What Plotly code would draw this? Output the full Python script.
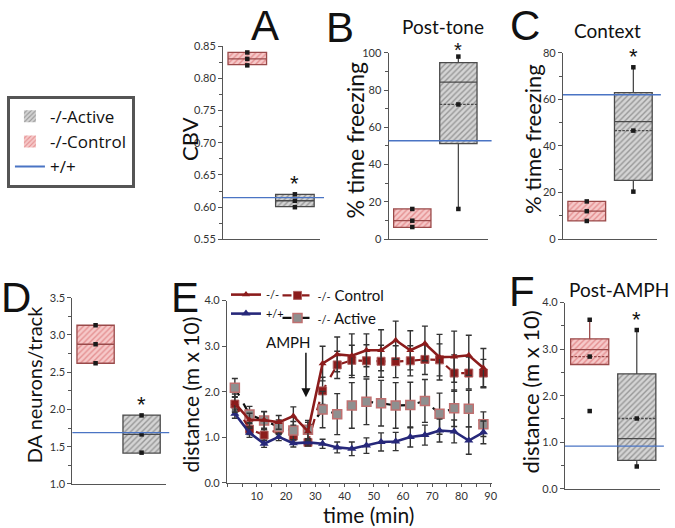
import plotly.graph_objects as go

W, H = 675, 528

# ---------------- data ----------------
groups = ["-/-Control", "-/-Active"]
box_pos = [0.5, 1.5]

# Panel A: CBV
a_q1 = [0.821, 0.601]
a_med = [0.830, 0.610]
a_q3 = [0.840, 0.620]
a_lo = [0.821, 0.601]
a_hi = [0.840, 0.620]
a_mean = [None, None]
a_dots_ctl = [0.84, 0.83, 0.82]
a_dots_act = [0.62, 0.61, 0.60]
a_wt = 0.615
a_star = 0.636

# Panel B: post-tone freezing
b_q1 = [6.3, 51.3]
b_med = [9.9, 84.3]
b_q3 = [16.2, 94.8]
b_lo = [6.3, 16.2]
b_hi = [16.2, 98.0]
b_mean = [None, 72.3]
b_dots_ctl = [16.2, 9.9, 6.5]
b_dots_act = [98.0, 72.3, 16.2]
b_wt = 52.8
b_star = 100.0

# Panel C: context freezing
c_q1 = [7.8, 25.2]
c_med = [12.0, 50.5]
c_q3 = [16.2, 62.9]
c_lo = [7.8, 20.4]
c_hi = [16.2, 73.8]
c_mean = [None, 46.6]
c_dots_ctl = [16.2, 12.0, 7.8]
c_dots_act = [73.8, 46.6, 20.4]
c_wt = 62.0
c_star = 78.5

# Panel D: DA neurons/track
d_q1 = [2.62, 1.415]
d_med = [2.875, 1.665]
d_q3 = [3.13, 1.925]
d_lo = [2.62, 1.415]
d_hi = [3.13, 1.925]
d_mean = [None, None]
d_dots_ctl = [3.13, 2.875, 2.62]
d_dots_act = [1.92, 1.665, 1.42]
d_wt = 1.69
d_star = 2.06

# Panel F: post-AMPH distance
f_q1 = [2.67, 0.61]
f_med = [2.99, 1.08]
f_q3 = [3.22, 2.47]
f_lo = [2.67, 0.48]
f_hi = [3.63, 3.41]
f_mean = [2.84, 1.51]
f_dots_ctl = [3.63, 2.84, 1.67]
f_dots_act = [3.41, 1.51, 0.48]
f_wt = 0.915
f_star = 3.63

# Panel E: time course
e_time = [2.5, 7.5, 12.5, 17.5, 22.5, 27.5, 32.5, 37.5, 42.5,
          47.5, 52.5, 57.5, 62.5, 67.5, 72.5, 77.5, 82.5, 87.5]
e_ko = [1.75, 1.38, 1.38, 1.33, 1.47, 1.13, 2.62, 2.82, 2.79,
        2.91, 2.91, 3.13, 2.91, 3.06, 2.76, 2.77, 2.80, 2.52]
e_ko_err = [0.2, 0.15, 0.18, 0.15, 0.2, 0.2, 0.38, 0.38, 0.48,
            0.36, 0.45, 0.42, 0.43, 0.38, 0.5, 0.56, 0.44, 0.43]
e_wt = [1.52, 1.10, 0.86, 1.01, 0.87, 0.89, 0.86, 0.78, 0.75,
        0.82, 0.90, 0.91, 1.01, 1.05, 1.15, 1.13, 0.93, 1.11]
e_wt_err = [0.1, 0.1, 0.08, 0.08, 0.08, 0.08, 0.1, 0.12, 0.15,
            0.17, 0.2, 0.2, 0.22, 0.22, 0.25, 0.25, 0.3, 0.25]
e_ctl = [1.73, 1.18, 1.05, 1.18, 1.03, 0.89, 2.02, 2.59, 2.69,
         2.68, 2.67, 2.66, 2.68, 2.71, 2.70, 2.41, 2.41, 2.41]
e_ctl_err = [0.15, 0.12, 0.12, 0.12, 0.1, 0.08, 0.3, 0.3, 0.33,
             0.35, 0.35, 0.35, 0.33, 0.33, 0.35, 0.4, 0.35, 0.3]
e_act = [2.09, 1.50, 1.37, 1.23, 1.15, 1.17, 1.61, 1.51, 1.70,
         1.78, 1.75, 1.70, 1.71, 1.80, 1.52, 1.64, 1.63, 1.29]
e_act_err = [0.2, 0.18, 0.2, 0.15, 0.2, 0.2, 0.4, 0.45, 0.5,
             0.5, 0.5, 0.5, 0.5, 0.47, 0.45, 0.4, 0.4, 0.27]
amph_time = 26.8

# ---------------- style ----------------
FONT = "Lato"
AX = "#555555"
TICKF = dict(family=FONT, size=11, color="#333333")
CTL_BG, CTL_FG, CTL_LN = "#f6c9c9", "#d2575a", "#9a4a4a"
ACT_BG, ACT_FG, ACT_LN = "#d4d4d4", "#5a5a5a", "#4a4a4a"
WT_BLUE = "#4a74c4"


def dx(x0, x1):
    return [x0 / W, x1 / W]


def dy(top, bot):
    return [1 - bot / H, 1 - top / H]


fig = go.Figure()

box_panels = [
    ("", (a_q1, a_med, a_q3, a_lo, a_hi, a_mean, a_dots_ctl, a_dots_act),
     dx(225, 323), dy(40, 238.3), [-0.01, 2.03], [0.55, 0.85], 0.05, 0.025, ".2f", a_wt, a_star, True),
    ("2", (b_q1, b_med, b_q3, b_lo, b_hi, b_mean, b_dots_ctl, b_dots_act),
     dx(392, 492), dy(47, 238), [-0.016, 2.135], [0, 100], 20, 10, "d", b_wt, b_star, False),
    ("3", (c_q1, c_med, c_q3, c_lo, c_hi, c_mean, c_dots_ctl, c_dots_act),
     dx(568, 663), dy(47, 238), [-0.011, 2.01], [0, 80], 20, 10, "d", c_wt, c_star, False),
    ("4", (d_q1, d_med, d_q3, d_lo, d_hi, d_mean, d_dots_ctl, d_dots_act),
     dx(73, 167), dy(298, 489), [-0.005, 2.02], [1.0, 3.5], 0.5, 0.25, ".1f", d_wt, d_star, False),
    ("6", (f_q1, f_med, f_q3, f_lo, f_hi, f_mean, f_dots_ctl, f_dots_act),
     dx(570, 666), dy(303, 494), [-0.026, 1.995], [0, 4.0], 1.0, 0.5, ".1f", f_wt, f_star, False),
]

annotations = []
shapes = []
BOXW = 0.81

for (sfx, stats, xd, yd, xr, yr, dt, mdt, fmt, wt, star, leg) in box_panels:
    q1, med, q3, lo, hi, mean, dots_ctl, dots_act = stats
    xa, ya = "x" + sfx, "y" + sfx
    styles = [(CTL_BG, CTL_FG, CTL_LN), (ACT_BG, ACT_FG, ACT_LN)]
    for i in range(2):
        bg, fg, ln = styles[i]
        fig.add_trace(go.Bar(
            x=[box_pos[i]], y=[q3[i] - q1[i]], base=[q1[i]], width=BOXW,
            marker=dict(color=bg, line=dict(width=0),
                        pattern=dict(shape="/", fgcolor=fg, bgcolor=bg, size=4, solidity=0.35)),
            name=groups[i], xaxis=xa, yaxis=ya, showlegend=leg,
            legend="legend", legendrank=2 - i, hoverinfo="skip"))
        bx = dict(x=[box_pos[i]], q1=[q1[i]], median=[med[i]], q3=[q3[i]],
                  lowerfence=[lo[i]], upperfence=[hi[i]], width=BOXW,
                  fillcolor="rgba(0,0,0,0)", line=dict(color=ln, width=1.3),
                  whiskerwidth=0, boxpoints=False, showlegend=False,
                  xaxis=xa, yaxis=ya, hoverinfo="skip")
        if mean[i] is not None:
            bx["mean"] = [mean[i]]
            bx["boxmean"] = True
        fig.add_trace(go.Box(**bx))
    for i, dots in enumerate([dots_ctl, dots_act]):
        fig.add_trace(go.Scatter(
            x=[box_pos[i]] * len(dots), y=dots, mode="markers",
            marker=dict(size=4.5, color="#1a1a1a", symbol="square"),
            showlegend=False, xaxis=xa, yaxis=ya, hoverinfo="skip", cliponaxis=False))
    shapes.append(dict(type="line", xref=xa + " domain", yref=ya, x0=0, x1=1.04,
                       y0=wt, y1=wt, line=dict(color=WT_BLUE, width=1.3), layer="above"))
    if sfx == "2":
        star_pos = dict(yanchor="top", yshift=16)
        star_size = 20
    else:
        star_pos = dict(yanchor="middle", yshift=0)
        star_size = 22
    annotations.append(dict(x=box_pos[1], y=star, xref=xa, yref=ya, text="*",
                            showarrow=False, font=dict(family="Liberation Sans", size=star_size, color="#111"),
                            **star_pos))
    xkey = "xaxis" + sfx
    ykey = "yaxis" + sfx
    fig.update_layout({
        xkey: dict(domain=xd, range=xr, anchor=ya, showgrid=False, zeroline=False,
                   showticklabels=False, ticks="", showline=True, linecolor=AX, linewidth=1),
        ykey: dict(domain=yd, range=yr, anchor=xa, showgrid=False, zeroline=False,
                   showline=True, linecolor=AX, linewidth=1, ticks="outside", ticklen=4,
                   tickcolor=AX, dtick=dt, tick0=yr[0], tickformat=fmt, tickfont=TICKF,
                   minor=dict(dtick=mdt, tick0=yr[0], ticks="outside", ticklen=3, tickcolor=AX)),
    })

# legend entry for +/+
fig.add_trace(go.Scatter(x=[None], y=[None], mode="lines", name="+/+",
                         line=dict(color=WT_BLUE, width=2), legend="legend", legendrank=3))

# ---------------- panel E ----------------
err_style = dict(type="data", color="#333333", thickness=1.4, width=3)
SMALL = "<span style='font-size:11px'>-/-</span>"
fig.add_trace(go.Scatter(
    x=e_time, y=e_ctl, name=SMALL + " Control",
    mode="lines+markers", line=dict(color="#8b1c1c", width=2.2, dash="dash"),
    marker=dict(symbol="square", size=8, color="#8b1c1c", line=dict(color="#b06060", width=1)),
    error_y=dict(array=e_ctl_err, **err_style), xaxis="x5", yaxis="y5", legend="legend3"))
fig.add_trace(go.Scatter(
    x=e_time, y=e_act, name=SMALL + " Active",
    mode="lines+markers", line=dict(color="#111111", width=2.2, dash="dash"),
    marker=dict(symbol="square", size=9, color="#8f8f8f", line=dict(color="#c07070", width=1.5)),
    error_y=dict(array=e_act_err, **err_style), xaxis="x5", yaxis="y5", legend="legend3"))
fig.add_trace(go.Scatter(
    x=e_time, y=e_wt, name="+/+", mode="lines+markers",
    line=dict(color="#27287a", width=2.6),
    marker=dict(symbol="triangle-up", size=8, color="#27287a"),
    error_y=dict(array=e_wt_err, **err_style), xaxis="x5", yaxis="y5", legend="legend2", legendrank=2))
fig.add_trace(go.Scatter(
    x=e_time, y=e_ko, name="-/-", mode="lines+markers",
    line=dict(color="#8b1c1c", width=2.6),
    marker=dict(symbol="triangle-up", size=7, color="#8b1c1c"),
    error_y=dict(array=e_ko_err, **err_style), xaxis="x5", yaxis="y5", legend="legend2", legendrank=1))

fig.update_layout(
    xaxis5=dict(domain=dx(229, 496), range=[-0.2, 90.3], anchor="y5", showgrid=False, zeroline=False,
                showline=True, linecolor=AX, linewidth=1, ticks="outside", ticklen=3, tickcolor=AX,
                tickvals=[10, 20, 30, 40, 50, 60, 70, 80, 90], tickfont=TICKF,
                minor=dict(tick0=0, dtick=5, ticks="outside", ticklen=3, tickcolor=AX)),
    yaxis5=dict(domain=dy(301, 488), range=[0, 4.0], anchor="x5", showgrid=False, zeroline=False,
                showline=True, linecolor=AX, linewidth=1, ticks="outside", ticklen=4, tickcolor=AX,
                dtick=1.0, tickformat=".1f", tickfont=TICKF),
)

annotations.append(dict(x=amph_time, y=1.88, xref="x5", yref="y5", ax=0, ay=-46,
                        text="", showarrow=True, arrowhead=2, arrowsize=1.2, arrowwidth=1.5,
                        arrowcolor="#111"))
annotations.append(dict(x=291 / W, y=1 - 343 / H, xref="paper", yref="paper", text="AMPH",
                        showarrow=False, font=dict(family=FONT, size=15, color="#111")))

# ---------------- text ----------------
def txt(x, y, s, size, family=FONT, angle=0):
    annotations.append(dict(x=x / W, y=1 - y / H, xref="paper", yref="paper", text=s,
                            showarrow=False, textangle=angle, xanchor="center", yanchor="middle",
                            font=dict(family=family, size=size, color="#111")))

for (xx, yy, s) in [(267, 19, "A"), (343, 21, "B"), (530, 19, "C"),
                    (16, 298, "D"), (187, 298, "E"), (527, 292, "F")]:
    txt(xx, yy, s, 42, family="Liberation Sans")

txt(447, 20, "Post-tone", 19)
txt(613, 24, "Context", 19)
txt(625, 290, "Post-AMPH", 19)

txt(191, 135, "CBV", 22, angle=-90)
txt(358, 137, "% time freezing", 23, angle=-90)
txt(537, 135, "% time freezing", 22, angle=-90)
txt(35, 387, "DA neurons/track", 20, angle=-90)
txt(192, 397, "distance (m x 10)", 21, angle=-90)
txt(535, 395, "distance (m x 10)", 22, angle=-90)
txt(372, 520, "time (min)", 21)

fig.update_layout(
    width=W, height=H, margin=dict(l=0, r=0, t=0, b=0),
    paper_bgcolor="white", plot_bgcolor="white", barmode="overlay",
    showlegend=True, annotations=annotations, shapes=shapes,
    legend=dict(x=7 / W, y=1 - 91 / H, xanchor="left", yanchor="top",
                bordercolor="#555555", borderwidth=3, bgcolor="white",
                font=dict(family="Open Sans", size=17, color="#111"), tracegroupgap=0,
                itemwidth=30, traceorder="normal"),
    legend2=dict(x=228 / W, y=1 - 280 / H, xanchor="left", yanchor="top",
                 bgcolor="rgba(0,0,0,0)", font=dict(family=FONT, size=11, color="#111"),
                 tracegroupgap=0, itemwidth=30, traceorder="normal"),
    legend3=dict(x=280 / W, y=1 - 279 / H, xanchor="left", yanchor="top",
                 bgcolor="rgba(0,0,0,0)", font=dict(family=FONT, size=15, color="#111"),
                 tracegroupgap=0, itemwidth=30, traceorder="normal"),
)

fig.write_html("out.html", config={"displayModeBar": False},
               post_script="document.body.style.margin='0';document.body.style.overflow='hidden';")
